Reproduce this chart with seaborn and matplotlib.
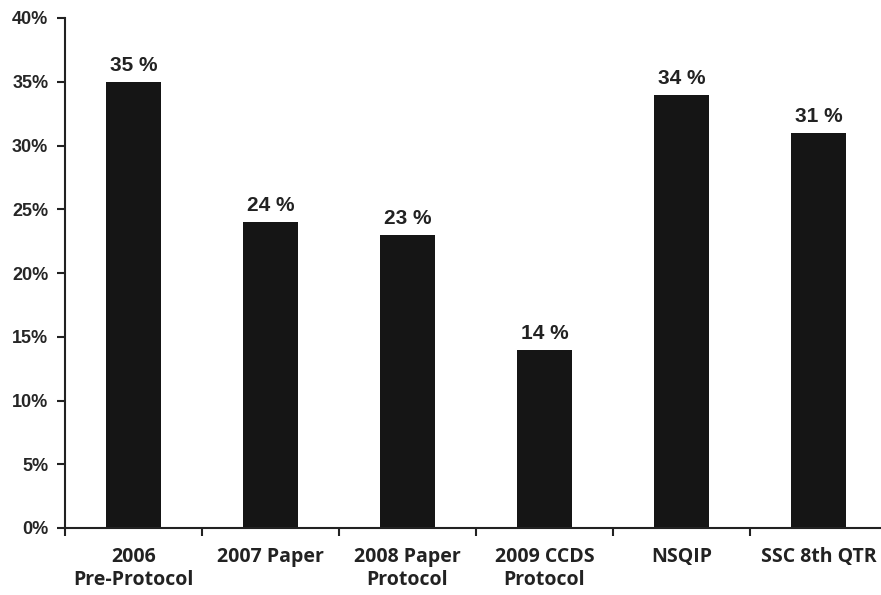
import pandas as pd
import matplotlib.pyplot as plt
import seaborn as sns

# data
categories = ['2006\nPre-Protocol', '2007 Paper', '2008 Paper\nProtocol',
              '2009 CCDS\nProtocol', 'NSQIP', 'SSC 8th QTR']
rates = [35, 24, 23, 14, 34, 31]
yticks = [0, 5, 10, 15, 20, 25, 30, 35, 40]

df = pd.DataFrame({'group': categories, 'rate': rates})

sns.set_style('white')
plt.rcParams['font.family'] = ['Liberation Sans', 'DejaVu Sans']

fig = plt.figure(figsize=(8.81, 5.95), dpi=100)
ax = fig.add_axes([65 / 881, 67 / 595, 822 / 881, 510 / 595])

sns.barplot(data=df, x='group', y='rate', color='#151515', width=0.4,
            saturation=1, linewidth=0, ax=ax)

ax.set_xlim(-0.5, len(categories) - 0.5)
ax.set_ylim(0, 40)
ax.set_yticks(yticks)
ax.set_yticklabels([f'{t}%' for t in yticks], fontsize=13, fontweight='bold')
ax.set_xlabel('')
ax.set_ylabel('')

# category ticks sit between the bars, labels under the bars
ax.set_xticks([i - 0.5 for i in range(len(categories) + 1)])
ax.set_xticklabels([])
ax.set_xticks(range(len(categories)), minor=True)
ax.set_xticklabels(categories, minor=True, fontsize=14, fontweight='bold',
                   family=['Open Sans', 'DejaVu Sans'], color='#222222',
                   linespacing=1.2)
ax.tick_params(axis='x', which='major', direction='out', length=6, width=1.5,
               color='#222222', bottom=True)
ax.tick_params(axis='x', which='minor', length=0, pad=14)
ax.tick_params(axis='y', direction='out', length=6, width=1.5,
               color='#222222', left=True, pad=6)

for s in ['top', 'right']:
    ax.spines[s].set_visible(False)
for s in ['left', 'bottom']:
    ax.spines[s].set_linewidth(1.5)
    ax.spines[s].set_color('#222222')

for i, v in enumerate(rates):
    ax.annotate(f'{v} %', (i, v), xytext=(0, 5), textcoords='offset points',
                ha='center', va='bottom', fontsize=15, fontweight='bold',
                color='#222222')

fig.savefig('out.png', dpi=100)
